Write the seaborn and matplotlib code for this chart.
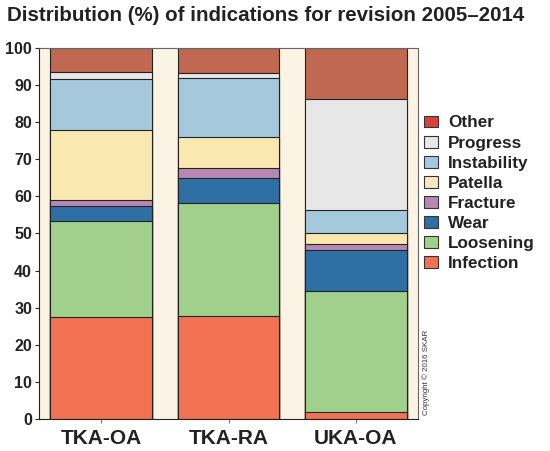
"""Stacked bars: distribution of revision indications 2005-2014."""

import pandas as pd
import seaborn as sns
import matplotlib.pyplot as plt
from matplotlib.patches import Patch

# ---------------------------------------------------------------------------
# Data (percent)
# ---------------------------------------------------------------------------
GROUPS = ["TKA-OA", "TKA-RA", "UKA-OA"]
CAUSES = ["Infection", "Loosening", "Wear", "Fracture", "Patella",
          "Instability", "Progress", "Other"]
INFECTION = [27.4, 27.7, 1.8]
LOOSENING = [26.0, 30.4, 32.6]
WEAR = [3.9, 6.9, 11.2]
FRACTURE = [1.8, 2.6, 1.5]
PATELLA = [18.7, 8.3, 3.0]
INSTABILITY = [13.9, 15.9, 6.2]
PROGRESS = [1.7, 1.4, 29.9]
OTHER = [6.6, 6.8, 13.8]

BAR_COLORS = {
    "Infection": "#F37251", "Loosening": "#A0D08B", "Wear": "#2F70A4",
    "Fracture": "#B688B3", "Patella": "#F9E8AF", "Instability": "#A6C8DD",
    "Progress": "#E7E7E7", "Other": "#C06851",
}
LEGEND_COLORS = dict(BAR_COLORS, Other="#D8423B", Patella="#FDE5C4")

df = pd.DataFrame({
    "Infection": INFECTION, "Loosening": LOOSENING, "Wear": WEAR,
    "Fracture": FRACTURE, "Patella": PATELLA, "Instability": INSTABILITY,
    "Progress": PROGRESS, "Other": OTHER,
}, index=GROUPS)
cum = df[CAUSES].cumsum(axis=1)

sns.set_style("ticks")
plt.rcParams["font.family"] = ["Liberation Sans", "DejaVu Sans"]

fig = plt.figure(figsize=(5.5, 4.51), dpi=100)
ax = fig.add_axes([0.071, 0.071, 0.689, 0.823])
ax.set_facecolor("#FBF3E4")

# draw cumulative totals from the top down so each layer covers the next
for cause in reversed(CAUSES):
    sns.barplot(x=GROUPS, y=cum[cause].values, color=BAR_COLORS[cause],
                saturation=1, width=0.8, edgecolor="#222222", linewidth=0.8,
                ax=ax)

ax.set_xlim(-0.49, 2.49)
ax.set_ylim(0, 100)
ax.set_yticks(range(0, 101, 10))
ax.tick_params(axis="y", labelsize=11.5, length=3, width=0.8, pad=2)
ax.tick_params(axis="x", labelsize=15, length=3, width=0.8, color="#777777", pad=4)
for lab in ax.get_xticklabels() + ax.get_yticklabels():
    lab.set_fontweight("bold")
    lab.set_color("#222222")
for side in ["left", "bottom"]:
    ax.spines[side].set_color("#222222")
for side in ["top", "right"]:
    ax.spines[side].set_visible(True)
    ax.spines[side].set_color("#666666")
    ax.spines[side].set_linewidth(0.8)

fig.text(0.012, 0.965, "Distribution (%) of indications for revision 2005\u20132014",
         fontsize=14.8, fontweight="bold", color="#222222", va="center")

handles = [Patch(facecolor=LEGEND_COLORS[c], edgecolor="#333333", linewidth=0.8, label=c)
           for c in reversed(CAUSES)]
leg = fig.legend(handles=handles, loc="upper left", bbox_to_anchor=(0.743, 0.778),
                 frameon=False, handlelength=0.8, handleheight=0.7,
                 handletextpad=0.6, labelspacing=0.3,
                 prop={"weight": "bold", "size": 12.3})
for t in leg.get_texts():
    t.set_color("#222222")

fig.text(0.768, 0.08, "Copyright \u00a9 2016 SKAR", rotation=90, fontsize=5.7,
         color="#333333", ha="left", va="bottom")

fig.savefig("out.png", dpi=100)
